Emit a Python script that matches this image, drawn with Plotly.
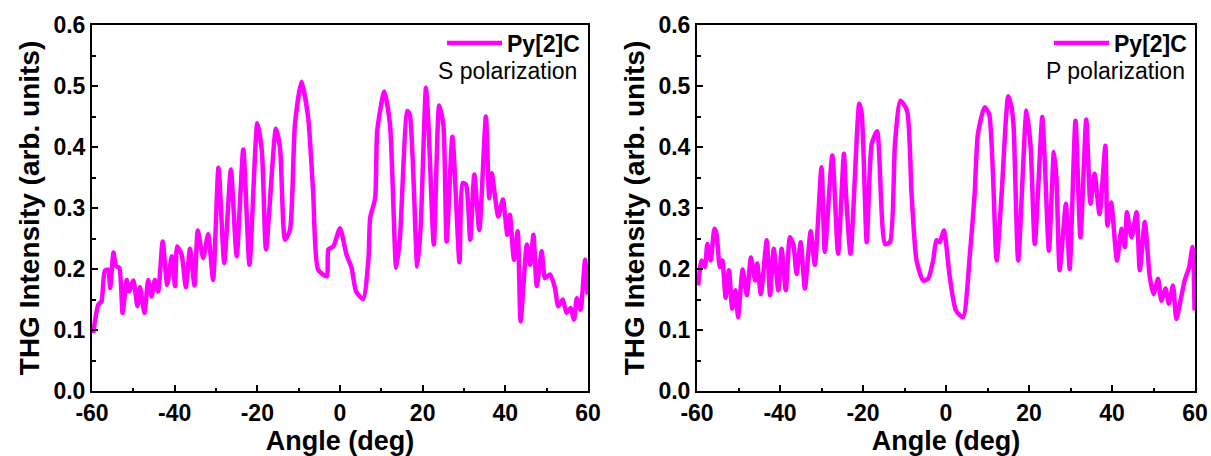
import plotly.graph_objects as go

# ---- S polarization (left panel) ----
s_angle = [-59.7, -58.5, -57.7, -56.9, -56.1, -55.6, -54.8, -54.2, -53.4, -52.6, -51.6, -51.0, -50.0,
           -49.0, -48.4, -47.3, -46.4, -45.6, -44.8, -44.0, -42.9, -41.8, -40.7, -39.9, -39.4, -38.3,
           -37.3, -36.3, -35.2, -34.4, -33.1, -31.9, -30.7, -29.4, -28.0, -26.4, -25.0, -23.4, -21.9,
           -20.0, -18.9, -17.9, -15.5, -14.5, -13.3, -12.1, -10.9, -9.3, -7.7, -6.5, -5.3, -3.2, -2.8,
           -1.6, 0.0, 1.6, 2.8, 3.9, 5.6, 6.9, 7.3, 8.5, 9.0, 10.7, 12.1, 13.6, 14.5, 16.3, 16.9, 18.7,
           19.5, 20.8, 21.4, 22.7, 24.0, 25.0, 25.8, 27.2, 28.9, 29.7, 30.5, 31.5, 32.5, 33.7, 35.3,
           36.1, 36.7, 38.3, 39.4, 40.5, 41.1, 42.1, 43.0, 43.7, 45.2, 46.0, 46.8, 47.6, 48.8, 49.6,
           50.8, 52.0, 52.8, 53.9, 54.8, 55.8, 56.6, 57.3, 58.2, 59.3, 59.9]
s_thg = [0.095, 0.141, 0.147, 0.197, 0.199, 0.169, 0.227, 0.205, 0.202, 0.128, 0.182, 0.163, 0.181,
         0.139, 0.170, 0.128, 0.182, 0.155, 0.182, 0.163, 0.245, 0.174, 0.221, 0.172, 0.237, 0.223,
         0.170, 0.233, 0.173, 0.263, 0.218, 0.257, 0.182, 0.366, 0.210, 0.363, 0.221, 0.396, 0.207,
         0.439, 0.393, 0.232, 0.430, 0.398, 0.248, 0.264, 0.437, 0.507, 0.448, 0.327, 0.199, 0.188,
         0.232, 0.237, 0.267, 0.223, 0.202, 0.163, 0.151, 0.218, 0.284, 0.316, 0.426, 0.491, 0.437,
         0.202, 0.251, 0.459, 0.453, 0.204, 0.267, 0.497, 0.437, 0.240, 0.468, 0.437, 0.245, 0.417,
         0.211, 0.341, 0.338, 0.248, 0.355, 0.264, 0.450, 0.316, 0.357, 0.286, 0.314, 0.256, 0.289,
         0.215, 0.262, 0.114, 0.240, 0.207, 0.256, 0.172, 0.229, 0.185, 0.191, 0.169, 0.139, 0.150,
         0.128, 0.136, 0.117, 0.152, 0.133, 0.215, 0.158]

# ---- P polarization (right panel) ----
p_angle = [-59.7, -58.9, -58.1, -57.5, -56.7, -55.8, -55.3, -54.5, -53.9, -53.1, -52.3, -51.5, -50.7,
           -50.1, -49.0, -48.0, -47.0, -46.0, -45.5, -44.6, -43.2, -42.4, -41.5, -40.4, -39.6, -38.6,
           -37.6, -36.8, -36.0, -35.0, -34.0, -32.6, -31.6, -30.0, -29.2, -27.4, -26.0, -24.6, -24.1,
           -23.0, -20.9, -20.3, -19.1, -17.9, -16.6, -14.7, -13.5, -12.3, -11.0, -9.4, -8.3, -7.1,
           -5.5, -4.3, -3.1, -2.3, -1.5, -0.5, 0.9, 2.4, 4.1, 5.7, 6.9, 7.7, 9.3, 10.4, 12.2, 13.4,
           15.0, 15.8, 16.3, 17.4, 19.4, 20.4, 21.4, 23.2, 23.8, 24.8, 26.0, 26.6, 27.4, 28.9, 29.8,
           31.2, 32.4, 33.8, 34.8, 35.8, 37.0, 38.4, 38.9, 39.8, 41.2, 42.3, 43.1, 43.6, 44.7, 45.9,
           46.7, 47.9, 49.1, 50.0, 51.1, 51.9, 52.9, 53.7, 54.7, 55.5, 56.5, 57.5, 58.6, 59.4, 59.9]
p_thg = [0.173, 0.214, 0.203, 0.241, 0.214, 0.266, 0.258, 0.203, 0.214, 0.153, 0.198, 0.135, 0.165,
         0.121, 0.199, 0.157, 0.219, 0.181, 0.209, 0.159, 0.247, 0.157, 0.233, 0.165, 0.233, 0.165,
         0.252, 0.241, 0.192, 0.244, 0.168, 0.262, 0.207, 0.367, 0.228, 0.386, 0.225, 0.389, 0.323,
         0.225, 0.471, 0.454, 0.244, 0.405, 0.426, 0.241, 0.244, 0.405, 0.476, 0.460, 0.323, 0.214,
         0.181, 0.184, 0.214, 0.247, 0.244, 0.263, 0.187, 0.132, 0.121, 0.219, 0.323, 0.422, 0.465,
         0.454, 0.214, 0.323, 0.483, 0.465, 0.432, 0.214, 0.460, 0.400, 0.241, 0.449, 0.378, 0.230,
         0.392, 0.351, 0.198, 0.307, 0.200, 0.443, 0.252, 0.445, 0.307, 0.356, 0.290, 0.402, 0.271,
         0.309, 0.214, 0.266, 0.236, 0.293, 0.252, 0.293, 0.198, 0.277, 0.187, 0.159, 0.184, 0.148,
         0.168, 0.143, 0.173, 0.118, 0.148, 0.181, 0.203, 0.236, 0.132]

series_name = "Py[2]C"
panel_labels = ["S polarization", "P polarization"]
x_ticks = [-60, -40, -20, 0, 20, 40, 60]
x_tick_labels = ["-60", "-40", "-20", "0", "20", "40", "60"]
y_ticks = [0.0, 0.1, 0.2, 0.3, 0.4, 0.5, 0.6]
y_tick_labels = ["0.0", "0.1", "0.2", "0.3", "0.4", "0.5", "0.6"]

W, H = 1211, 456
FONT = "Liberation Sans, Arial, sans-serif"
MAG = "#FF00FF"

fig = go.Figure()
fig.add_trace(go.Scatter(x=s_angle, y=s_thg, mode="lines", name="<b>" + series_name + "</b>",
                         line=dict(color=MAG, width=4.5, shape="spline", smoothing=0.6),
                         xaxis="x", yaxis="y", legend="legend"))
fig.add_trace(go.Scatter(x=p_angle, y=p_thg, mode="lines", name="<b>" + series_name + "</b>",
                         line=dict(color=MAG, width=4.5, shape="spline", smoothing=0.6),
                         xaxis="x2", yaxis="y2", legend="legend2"))

xd1 = [92 / W, 588 / W]
xd2 = [697 / W, 1195 / W]
yd = [1 - 391 / H, 1 - 25 / H]

def xax(domain, anchor):
    return dict(domain=domain, anchor=anchor, range=[-60, 60], tickvals=x_ticks,
                ticktext=x_tick_labels, automargin=False,
                ticks="inside", ticklen=6, tickwidth=2, tickcolor="black",
                minor=dict(dtick=10, ticks="inside", ticklen=3.5, tickwidth=2, tickcolor="black"),
                showline=True, linewidth=2, linecolor="black", mirror=True, showgrid=False,
                zeroline=False, tickfont=dict(family=FONT, size=23, color="black", weight="bold"),
                title=dict(text="<b>Angle (deg)</b>", font=dict(family=FONT, size=27, color="black"),
                           standoff=0))

def yax(domain, anchor):
    return dict(domain=domain, anchor=anchor, range=[0, 0.6], tickvals=y_ticks,
                ticktext=y_tick_labels, automargin=False,
                ticks="inside", ticklen=6, tickwidth=2, tickcolor="black",
                minor=dict(dtick=0.05, ticks="inside", ticklen=3.5, tickwidth=2, tickcolor="black"),
                showline=True, linewidth=2, linecolor="black", mirror=True, showgrid=False,
                zeroline=False, tickfont=dict(family=FONT, size=23, color="black", weight="bold"),
                title=dict(text="<b>THG Intensity (arb. units)</b>",
                           font=dict(family=FONT, size=28, color="black"), standoff=6))

def leg(xright):
    return dict(x=xright, xanchor="right", y=1 - 43 / H, yanchor="middle",
                bgcolor="rgba(0,0,0,0)", borderwidth=0, itemwidth=55,
                font=dict(family=FONT, size=23, color="black"))

fig.update_layout(
    width=W, height=H, margin=dict(l=0, r=0, t=0, b=0, autoexpand=False),
    paper_bgcolor="white", plot_bgcolor="white", showlegend=True,
    xaxis=xax(xd1, "y"), yaxis=yax(yd, "x"),
    xaxis2=xax(xd2, "y2"), yaxis2=yax(yd, "x2"),
    legend=leg(585 / W), legend2=leg(1192 / W),
    annotations=[
        dict(text=panel_labels[0], xref="paper", yref="paper", x=579 / W, y=1 - 71 / H,
             xanchor="right", yanchor="middle", showarrow=False,
             font=dict(family=FONT, size=23, color="black")),
        dict(text=panel_labels[1], xref="paper", yref="paper", x=1187 / W, y=1 - 71 / H,
             xanchor="right", yanchor="middle", showarrow=False,
             font=dict(family=FONT, size=23, color="black")),
    ],
)

fig.write_html("out.html", config={"displayModeBar": False},
               post_script="document.body.style.margin='0';")
